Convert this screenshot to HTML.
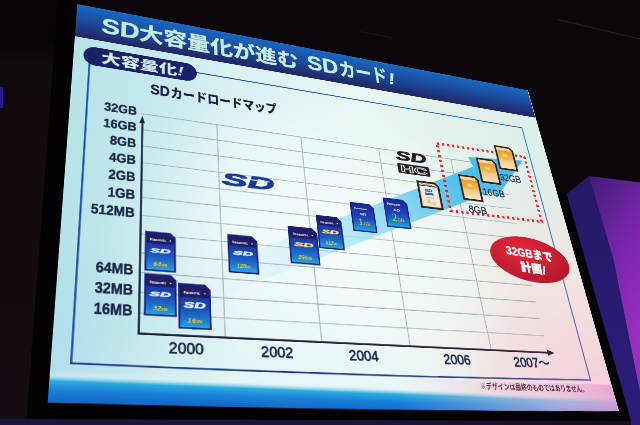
<!DOCTYPE html>
<html><head><meta charset="utf-8"><title>SD大容量化が進む SDカード!</title>
<style>
html,body{margin:0;padding:0}
body{width:640px;height:425px;overflow:hidden;position:relative;background:#0a0609;font-family:"Liberation Sans","Noto Sans CJK JP",sans-serif}
#bg{position:absolute;left:0;top:0}
#wrap{position:absolute;left:0;top:0;width:640px;height:425px;overflow:hidden;filter:blur(0.35px)}
#slide{position:absolute;left:0;top:0;width:800px;height:600px;transform-origin:0 0;transform:matrix3d(0.725759352,0.135544762,0,0.000310399625,-0.0692850929,0.495904574,0,-0.000418336994,0,0,1,0,77.2719241,4.01891224,0,1);}
#sbg{position:absolute;left:0;top:0;width:802px;height:600px;
background:
 radial-gradient(ellipse 260px 220px at 100% 100%, rgba(244,200,212,0.95) 0%, rgba(244,206,216,0.6) 45%, rgba(244,214,220,0) 100%),
 radial-gradient(ellipse 330px 90px at 35% 96%, rgba(232,246,248,0.8) 0%, rgba(232,246,248,0) 100%),
 radial-gradient(ellipse 330px 260px at 46% 60%, rgba(246,252,252,1) 0%, rgba(242,250,250,0.75) 50%, rgba(240,250,250,0) 100%),
 radial-gradient(ellipse 380px 330px at 100% 85%, rgba(245,228,226,1) 0%, rgba(245,228,226,0.8) 50%, rgba(245,228,226,0) 100%),
 radial-gradient(ellipse 120px 240px at 0% 100%, rgba(176,214,242,0.8) 0%, rgba(178,216,240,0) 100%),
 linear-gradient(to right, #bfe7eb 0%, #d6f0f1 25%, #e8f6f4 55%, #e2f0ea 80%, #dcefe9 100%);}
#sbgmask{position:absolute;left:0;top:0;width:802px;height:600px;background:linear-gradient(to right, rgba(170,222,228,0.4) 0%, rgba(188,228,236,0) 28%)}
</style></head><body>
<div id="wrap">
<svg id="bg" width="640" height="425" viewBox="0 0 640 425">
<defs><linearGradient id="pf" x1="0" y1="0" x2="0.35" y2="1"><stop offset="0" stop-color="#441c78"/><stop offset="0.25" stop-color="#5c2290"/><stop offset="0.5" stop-color="#7a26ae"/><stop offset="1" stop-color="#9a30c0"/></linearGradient>
<linearGradient id="lbg" x1="0" y1="0" x2="0" y2="1"><stop offset="0" stop-color="#080406"/><stop offset="0.09" stop-color="#080406"/><stop offset="0.16" stop-color="#110a0f"/><stop offset="1" stop-color="#170c13"/></linearGradient>
<linearGradient id="bstrip" x1="0" y1="0" x2="1" y2="0"><stop offset="0" stop-color="#1e1640"/><stop offset="0.6" stop-color="#1c1436"/><stop offset="1" stop-color="#160c1c"/></linearGradient>
<linearGradient id="pl" x1="0" y1="0" x2="0" y2="1"><stop offset="0" stop-color="#261a68"/><stop offset="1" stop-color="#2c1c78"/></linearGradient></defs>
<rect width="640" height="425" fill="#0a0609"/>
<polygon points="0,0 60,0 27,420 0,420" fill="url(#lbg)"/>
<polygon points="0,419 640,419 640,425 0,425" fill="url(#bstrip)"/>
<polygon points="566.5,194.2 588.9,176 613.6,260.1 640,392 640,425 631,425 631,421" fill="url(#pl)"/>
<polygon points="588.9,176 640,182.4 640,392 613.6,260.1" fill="url(#pf)"/>
<polygon points="0,87 3,87 3,108 0,108" fill="#2a1a90"/>
<polygon points="58,0 80,0 566.5,194.2 631,421 26.5,419" fill="#050205"/>
<line x1="557" y1="19.4" x2="640" y2="39" stroke="#2a2024" stroke-width="1.2"/>
<line x1="359" y1="31.5" x2="393" y2="37.9" stroke="#1c1418" stroke-width="1.2"/>
</svg>
<div id="slide">
<div id="sbg"></div>
<div id="sbgmask"></div>
<svg width="808" height="612" viewBox="-4 -4 808 612" style="position:absolute;left:-4px;top:-4px;overflow:visible" font-family='"Liberation Sans","Noto Sans CJK JP",sans-serif'><defs>
<linearGradient id="cb" x1="0" y1="0" x2="0" y2="1"><stop offset="0" stop-color="#1b2a98"/><stop offset="0.5" stop-color="#1d46b2"/><stop offset="0.82" stop-color="#1c7ad2"/><stop offset="1" stop-color="#28a6e4"/></linearGradient>
<linearGradient id="cg" x1="0" y1="0" x2="0" y2="1"><stop offset="0" stop-color="#e29a2c"/><stop offset="0.45" stop-color="#eeb048"/><stop offset="0.62" stop-color="#f4cc88"/><stop offset="1" stop-color="#f8e2c4"/></linearGradient>
<linearGradient id="cc" x1="0" y1="0" x2="0" y2="1"><stop offset="0" stop-color="#f4f0e4"/><stop offset="1" stop-color="#eee4cc"/></linearGradient>
<linearGradient id="arr" x1="180" y1="420" x2="750" y2="170" gradientUnits="userSpaceOnUse"><stop offset="0" stop-color="#b8e4f4" stop-opacity="0"/><stop offset="0.2" stop-color="#b0e2f4" stop-opacity="0.35"/><stop offset="0.47" stop-color="#98dcf6" stop-opacity="0.95"/><stop offset="0.75" stop-color="#52c0ec"/><stop offset="1" stop-color="#48b8ea"/></linearGradient>
<linearGradient id="boxt" x1="0" y1="0" x2="800" y2="0" gradientUnits="userSpaceOnUse"><stop offset="0" stop-color="#1a4cb0"/><stop offset="1" stop-color="#2a7ab6"/></linearGradient>
<linearGradient id="boxr" x1="0" y1="92" x2="0" y2="555" gradientUnits="userSpaceOnUse"><stop offset="0" stop-color="#2a7ab6"/><stop offset="1" stop-color="#6858a8"/></linearGradient>
<linearGradient id="boxb" x1="0" y1="0" x2="800" y2="0" gradientUnits="userSpaceOnUse"><stop offset="0" stop-color="#1a44a0"/><stop offset="0.3" stop-color="#163282"/><stop offset="0.65" stop-color="#2a3a88"/><stop offset="1" stop-color="#6858a8"/></linearGradient>
<linearGradient id="xax" x1="97" y1="0" x2="711" y2="0" gradientUnits="userSpaceOnUse"><stop offset="0" stop-color="#1c1e3c"/><stop offset="1" stop-color="#3a2238"/></linearGradient>
<linearGradient id="boxg" x1="0" y1="0" x2="800" y2="0" gradientUnits="userSpaceOnUse"><stop offset="0" stop-color="#1a4cb0"/><stop offset="0.6" stop-color="#2060b8"/><stop offset="1" stop-color="#6a5aa8"/></linearGradient>
<linearGradient id="band" x1="0" y1="0" x2="0" y2="1"><stop offset="0" stop-color="#1a68c2"/><stop offset="0.5" stop-color="#1c4a9c"/><stop offset="1" stop-color="#222462"/></linearGradient>
<linearGradient id="bot" x1="0" y1="568" x2="0" y2="603" gradientUnits="userSpaceOnUse" gradientTransform="rotate(0.9 400 585)"><stop offset="0" stop-color="#e8f6f8" stop-opacity="0"/><stop offset="0.18" stop-color="#e0f2f6" stop-opacity="0.4"/><stop offset="0.38" stop-color="#2cacde"/><stop offset="0.68" stop-color="#1a80d8"/><stop offset="1" stop-color="#136ac8"/></linearGradient>
<linearGradient id="botp" x1="0" y1="0" x2="1" y2="0"><stop offset="0.55" stop-color="#f0c8e0" stop-opacity="0"/><stop offset="0.85" stop-color="#ecc0dc" stop-opacity="0.6"/><stop offset="1" stop-color="#e4a0d0" stop-opacity="0.85"/></linearGradient>
<radialGradient id="redg" cx="0.4" cy="0.35" r="0.7"><stop offset="0" stop-color="#e8283a"/><stop offset="1" stop-color="#b2182e"/></radialGradient>
</defs>
<rect x="0" y="0" width="801" height="63" fill="url(#band)"/>
<text x="36" y="47" font-size="43" font-weight="bold" fill="#c4ece2" stroke="#c4ece2" stroke-width="0.6" lengthAdjust="spacingAndGlyphs" textLength="56">SD</text>
<text x="91" y="47" font-size="37" font-weight="bold" fill="#c4ece2" stroke="#c4ece2" stroke-width="0.6" lengthAdjust="spacingAndGlyphs" textLength="255">大容量化が進む</text>
<text x="361.5" y="45.5" font-size="43" font-weight="bold" fill="#c4ece2" stroke="#c4ece2" stroke-width="0.6" lengthAdjust="spacingAndGlyphs" textLength="55">SD</text>
<text x="418" y="45.5" font-size="39" font-weight="bold" fill="#c4ece2" stroke="#c4ece2" stroke-width="0.6" lengthAdjust="spacingAndGlyphs" textLength="89">カード</text>
<text x="509" y="45" font-size="36" font-weight="bold" fill="#c4ece2" stroke="#c4ece2" stroke-width="0.6" lengthAdjust="spacingAndGlyphs" font-style="italic">!</text>
<path d="M0,560 L801,560 L801,600 Q400,605 0,600 Z" fill="url(#bot)"/>
<path d="M0,560 L801,560 L801,600 Q400,605 0,600 Z" fill="url(#botp)"/>
<line x1="22.4" y1="92" x2="764.5" y2="92" stroke="url(#boxt)" stroke-width="2.2"/>
<line x1="22.4" y1="91" x2="22.4" y2="555" stroke="#1a46a8" stroke-width="2.4"/>
<path d="M21.4,553.6 Q393,559 765.5,553.6" fill="none" stroke="url(#boxb)" stroke-width="2.3"/>
<line x1="764.5" y1="91" x2="764.5" y2="555" stroke="url(#boxr)" stroke-width="2"/>
<rect x="13.5" y="77" width="164.5" height="34" rx="17" fill="#1a2168"/>
<text x="38" y="103.5" font-size="24" font-weight="900" fill="#cdeeea" textLength="120" lengthAdjust="spacingAndGlyphs">大容量化<tspan font-style="italic">!</tspan></text>
<text x="109" y="146" font-size="25" font-weight="bold" fill="#1a2040" stroke="#1a2040" stroke-width="0.5" textLength="28" lengthAdjust="spacingAndGlyphs">SD</text>
<text x="138" y="146.5" font-size="22.5" font-weight="900" fill="#1a2040" textLength="164" lengthAdjust="spacingAndGlyphs">カードロードマップ</text>
<line x1="99" y1="183.7" x2="700" y2="183.7" stroke="#a2b4b8" stroke-width="1.4"/>
<line x1="99" y1="211.3" x2="700" y2="211.3" stroke="#a2b4b8" stroke-width="1.4"/>
<line x1="99" y1="238.8" x2="700" y2="238.8" stroke="#a2b4b8" stroke-width="1.4"/>
<line x1="99" y1="266.4" x2="700" y2="266.4" stroke="#a2b4b8" stroke-width="1.4"/>
<line x1="99" y1="293.9" x2="700" y2="293.9" stroke="#a2b4b8" stroke-width="1.4"/>
<line x1="99" y1="321.5" x2="700" y2="321.5" stroke="#a2b4b8" stroke-width="1.4"/>
<line x1="99" y1="349.1" x2="700" y2="349.1" stroke="#a2b4b8" stroke-width="1.4"/>
<line x1="99" y1="376.6" x2="700" y2="376.6" stroke="#a2b4b8" stroke-width="1.4"/>
<line x1="99" y1="404.2" x2="700" y2="404.2" stroke="#a2b4b8" stroke-width="1.4"/>
<line x1="99" y1="431.7" x2="700" y2="431.7" stroke="#a2b4b8" stroke-width="1.4"/>
<line x1="99" y1="459.3" x2="700" y2="459.3" stroke="#a2b4b8" stroke-width="1.4"/>
<line x1="99" y1="486.9" x2="700" y2="486.9" stroke="#a2b4b8" stroke-width="1.4"/>
<line x1="206.1" y1="183.7" x2="206.1" y2="513.6" stroke="#a2b4b8" stroke-width="1.4"/>
<line x1="337.1" y1="183.7" x2="337.1" y2="513.6" stroke="#a2b4b8" stroke-width="1.4"/>
<line x1="468.5" y1="183.7" x2="468.5" y2="513.6" stroke="#a2b4b8" stroke-width="1.4"/>
<line x1="600.2" y1="183.7" x2="600.2" y2="513.6" stroke="#a2b4b8" stroke-width="1.4"/>
<polygon points="200,413 641.2,192.4 635.5,174.2 746.4,164.5 674.2,248.3 668.2,236.9 200,458" fill="url(#arr)"/>
<line x1="98.5" y1="514.5" x2="98.5" y2="198" stroke="#1a1e3a" stroke-width="2.6"/>
<polygon points="98.2,188 94.3,200 102.1,200" fill="#1a1e3a"/>
<line x1="97.2" y1="513.6" x2="700" y2="513.6" stroke="url(#xax)" stroke-width="2.6"/>
<polygon points="711,513.6 698,508.6 698,518.6" fill="#3a2238"/>
<text x="90.5" y="187.7" font-size="20.5" font-weight="bold" fill="#1a2446" stroke="#1a2446" stroke-width="0.5" text-anchor="end" transform="translate(90.5 0) scale(0.84 1) translate(-90.5 0)">32GB</text>
<text x="90.5" y="215.3" font-size="20.5" font-weight="bold" fill="#1a2446" stroke="#1a2446" stroke-width="0.5" text-anchor="end" transform="translate(90.5 0) scale(0.84 1) translate(-90.5 0)">16GB</text>
<text x="90.5" y="242.8" font-size="20.5" font-weight="bold" fill="#1a2446" stroke="#1a2446" stroke-width="0.5" text-anchor="end" transform="translate(90.5 0) scale(0.84 1) translate(-90.5 0)">8GB</text>
<text x="90.5" y="270.4" font-size="20.5" font-weight="bold" fill="#1a2446" stroke="#1a2446" stroke-width="0.5" text-anchor="end" transform="translate(90.5 0) scale(0.84 1) translate(-90.5 0)">4GB</text>
<text x="90.5" y="297.9" font-size="20.5" font-weight="bold" fill="#1a2446" stroke="#1a2446" stroke-width="0.5" text-anchor="end" transform="translate(90.5 0) scale(0.84 1) translate(-90.5 0)">2GB</text>
<text x="90.5" y="325.5" font-size="20.5" font-weight="bold" fill="#1a2446" stroke="#1a2446" stroke-width="0.5" text-anchor="end" transform="translate(90.5 0) scale(0.84 1) translate(-90.5 0)">1GB</text>
<text x="90.5" y="353.1" font-size="20.5" font-weight="bold" fill="#1a2446" stroke="#1a2446" stroke-width="0.5" text-anchor="end" transform="translate(90.5 0) scale(0.84 1) translate(-90.5 0)">512MB</text>
<text x="90.5" y="435.7" font-size="20.5" font-weight="bold" fill="#1a2446" stroke="#1a2446" stroke-width="0.5" text-anchor="end" transform="translate(90.5 0) scale(0.84 1) translate(-90.5 0)">64MB</text>
<text x="90.5" y="463.3" font-size="20.5" font-weight="bold" fill="#1a2446" stroke="#1a2446" stroke-width="0.5" text-anchor="end" transform="translate(90.5 0) scale(0.84 1) translate(-90.5 0)">32MB</text>
<text x="90.5" y="490.9" font-size="20.5" font-weight="bold" fill="#1a2446" stroke="#1a2446" stroke-width="0.5" text-anchor="end" transform="translate(90.5 0) scale(0.84 1) translate(-90.5 0)">16MB</text>
<text x="156.5" y="537.5" font-size="19.5" fill="#1e2a4e" stroke="#1e2a4e" stroke-width="0.85" text-anchor="middle">2000</text>
<text x="274" y="537.5" font-size="19.5" fill="#1e2a4e" stroke="#1e2a4e" stroke-width="0.85" text-anchor="middle">2002</text>
<text x="396" y="537.5" font-size="19.5" fill="#1e2a4e" stroke="#1e2a4e" stroke-width="0.85" text-anchor="middle">2004</text>
<text x="540" y="537.5" font-size="19.5" fill="#1e2a4e" stroke="#1e2a4e" stroke-width="0.85" text-anchor="middle">2006</text>
<text x="666" y="537.5" font-size="19.5" fill="#1e2a4e" stroke="#1e2a4e" stroke-width="0.85" text-anchor="middle">2007～</text>
<text x="249" y="286" font-size="29" font-weight="bold" font-style="italic" fill="#1a3a9c" stroke="#1a3a9c" stroke-width="1.2" text-anchor="middle" textLength="78" lengthAdjust="spacingAndGlyphs">SD</text>
<polygon points="253,271.5 281,271.5 280.5,273.3 252.5,273.3" fill="#d8eef0"/>
<text x="525" y="200" font-size="24" font-weight="bold" font-style="italic" fill="#2a1c24" stroke="#2a1c24" stroke-width="1.1" text-anchor="middle" textLength="56" lengthAdjust="spacingAndGlyphs">SD</text>
<rect x="497.5" y="206.5" width="57" height="18.5" rx="2.5" fill="#2a1c24"/>
<text x="526" y="222" font-size="17" font-weight="bold" fill="none" stroke="#e6eef0" stroke-width="1.1" text-anchor="middle" textLength="48" lengthAdjust="spacingAndGlyphs">HC</text>
<g transform="translate(104.3,371.5)"><polygon points="0,0 33.2,0 40,6.800000000000001 40,57 0,57" fill="#17237e"/><polygon points="2.2,2.2 32.298,2.2 37.8,7.702000000000001 37.8,54.8 2.2,54.8" fill="url(#cb)"/><polygon points="2.2,2.2 32.298,2.2 37.8,7.702000000000001 37.8,17.180000000000003 2.2,17.180000000000003" fill="#221c62"/><text x="16.8" y="13.4" font-size="5.1" fill="#ffffff" text-anchor="middle" font-weight="bold" textLength="20.8" lengthAdjust="spacingAndGlyphs">Panasonic</text><circle cx="32.8" cy="11.7" r="1" fill="#fff"/><text x="20.0" y="30.5" font-size="9.4" fill="#d6ecfa" text-anchor="middle" font-weight="bold" font-style="italic" textLength="26.4" lengthAdjust="spacingAndGlyphs" stroke="#d6ecfa" stroke-width="0.7">SD</text><text x="20.0" y="49.6" font-size="8.8" fill="#eec42c" text-anchor="middle" font-style="italic" font-weight="bold" textLength="18.4" lengthAdjust="spacingAndGlyphs">64<tspan font-size="4.8">MB</tspan></text></g>
<g transform="translate(104.3,432.5)"><polygon points="0,0 33.615,0 40.5,6.885000000000001 40.5,57 0,57" fill="#17237e"/><polygon points="2.2,2.2 32.713,2.2 38.3,7.787000000000001 38.3,54.8 2.2,54.8" fill="url(#cb)"/><polygon points="2.2,2.2 32.713,2.2 38.3,7.787000000000001 38.3,17.180000000000003 2.2,17.180000000000003" fill="#221c62"/><text x="17.0" y="13.4" font-size="5.1" fill="#ffffff" text-anchor="middle" font-weight="bold" textLength="21.1" lengthAdjust="spacingAndGlyphs">Panasonic</text><circle cx="33.2" cy="11.7" r="1" fill="#fff"/><text x="20.2" y="30.5" font-size="9.4" fill="#d6ecfa" text-anchor="middle" font-weight="bold" font-style="italic" textLength="26.7" lengthAdjust="spacingAndGlyphs" stroke="#d6ecfa" stroke-width="0.7">SD</text><text x="20.2" y="49.6" font-size="8.8" fill="#eec42c" text-anchor="middle" font-style="italic" font-weight="bold" textLength="18.6" lengthAdjust="spacingAndGlyphs">32<tspan font-size="4.8">MB</tspan></text></g>
<g transform="translate(147.0,442.5)"><polygon points="0,0 34.86,0 42,7.140000000000001 42,62 0,62" fill="#17237e"/><polygon points="2.2,2.2 33.958,2.2 39.8,8.042 39.8,59.8 2.2,59.8" fill="url(#cb)"/><polygon points="2.2,2.2 33.958,2.2 39.8,8.042 39.8,18.880000000000003 2.2,18.880000000000003" fill="#221c62"/><text x="17.6" y="14.6" font-size="5.6" fill="#ffffff" text-anchor="middle" font-weight="bold" textLength="21.8" lengthAdjust="spacingAndGlyphs">Panasonic</text><circle cx="34.4" cy="12.7" r="1" fill="#fff"/><text x="21.0" y="33.2" font-size="10.2" fill="#d6ecfa" text-anchor="middle" font-weight="bold" font-style="italic" textLength="27.7" lengthAdjust="spacingAndGlyphs" stroke="#d6ecfa" stroke-width="0.7">SD</text><text x="21.0" y="53.9" font-size="9.6" fill="#eec42c" text-anchor="middle" font-style="italic" font-weight="bold" textLength="19.3" lengthAdjust="spacingAndGlyphs">16<tspan font-size="5.3">MB</tspan></text></g>
<g transform="translate(214.5,364.5)"><polygon points="0,0 34.86,0 42,7.140000000000001 42,57.5 0,57.5" fill="#17237e"/><polygon points="2.2,2.2 33.958,2.2 39.8,8.042 39.8,55.3 2.2,55.3" fill="url(#cb)"/><polygon points="2.2,2.2 33.958,2.2 39.8,8.042 39.8,17.35 2.2,17.35" fill="#221c62"/><text x="17.6" y="13.5" font-size="5.2" fill="#ffffff" text-anchor="middle" font-weight="bold" textLength="21.8" lengthAdjust="spacingAndGlyphs">Panasonic</text><circle cx="34.4" cy="11.8" r="1" fill="#fff"/><text x="21.0" y="30.8" font-size="9.5" fill="#d6ecfa" text-anchor="middle" font-weight="bold" font-style="italic" textLength="27.7" lengthAdjust="spacingAndGlyphs" stroke="#d6ecfa" stroke-width="0.7">SD</text><text x="21.0" y="50.0" font-size="8.9" fill="#eec42c" text-anchor="middle" font-style="italic" font-weight="bold" textLength="19.3" lengthAdjust="spacingAndGlyphs">128<tspan font-size="4.9">MB</tspan></text></g>
<g transform="translate(303.0,342.0)"><polygon points="0,0 36.519999999999996,0 44,7.48 44,58.5 0,58.5" fill="#17237e"/><polygon points="2.2,2.2 35.617999999999995,2.2 41.8,8.382 41.8,56.3 2.2,56.3" fill="url(#cb)"/><polygon points="2.2,2.2 35.617999999999995,2.2 41.8,8.382 41.8,17.69 2.2,17.69" fill="#221c62"/><text x="18.5" y="13.7" font-size="5.3" fill="#ffffff" text-anchor="middle" font-weight="bold" textLength="22.9" lengthAdjust="spacingAndGlyphs">Panasonic</text><circle cx="36.1" cy="12.0" r="1" fill="#fff"/><text x="22.0" y="31.3" font-size="9.7" fill="#f2d88a" text-anchor="middle" font-weight="bold" font-style="italic" textLength="29.0" lengthAdjust="spacingAndGlyphs" stroke="#f2d88a" stroke-width="0.7">SD</text><text x="22.0" y="50.9" font-size="9.1" fill="#eec42c" text-anchor="middle" font-style="italic" font-weight="bold" textLength="20.2" lengthAdjust="spacingAndGlyphs">256<tspan font-size="5.0">MB</tspan></text></g>
<g transform="translate(348.0,319.0)"><polygon points="0,0 32.785,0 39.5,6.715000000000001 39.5,54 0,54" fill="#17237e"/><polygon points="2.2,2.2 31.882999999999996,2.2 37.3,7.617000000000001 37.3,51.8 2.2,51.8" fill="url(#cb)"/><polygon points="2.2,2.2 31.882999999999996,2.2 37.3,7.617000000000001 37.3,16.160000000000004 2.2,16.160000000000004" fill="#221c62"/><text x="16.6" y="12.7" font-size="4.9" fill="#ffffff" text-anchor="middle" font-weight="bold" textLength="20.5" lengthAdjust="spacingAndGlyphs">Panasonic</text><circle cx="32.4" cy="11.1" r="1" fill="#fff"/><text x="19.8" y="28.9" font-size="8.9" fill="#f2d88a" text-anchor="middle" font-weight="bold" font-style="italic" textLength="26.1" lengthAdjust="spacingAndGlyphs" stroke="#f2d88a" stroke-width="0.7">SD</text><text x="19.8" y="47.0" font-size="8.4" fill="#eec42c" text-anchor="middle" font-style="italic" font-weight="bold" textLength="18.2" lengthAdjust="spacingAndGlyphs">512<tspan font-size="4.6">MB</tspan></text></g>
<g transform="translate(405.0,290.0)"><polygon points="0,0 32.37,0 39,6.630000000000001 39,49 0,49" fill="#17237e"/><polygon points="2.2,2.2 31.467999999999996,2.2 36.8,7.532000000000001 36.8,46.8 2.2,46.8" fill="url(#cb)"/><text x="16.4" y="11.5" font-size="4.4" fill="#ffffff" text-anchor="middle" font-weight="bold" textLength="21.5" lengthAdjust="spacingAndGlyphs">Panasonic</text><text x="14.0" y="21.1" font-size="5.9" fill="#d6ecfa" font-weight="bold" font-style="italic" textLength="10.9" lengthAdjust="spacingAndGlyphs">SD</text><text x="19.5" y="38.2" font-size="17.6" fill="#e6d040" text-anchor="middle" font-family="Liberation Serif,serif">1<tspan font-size="7.8">GB</tspan></text></g>
<g transform="translate(462.0,275.0)"><polygon points="0,0 34.03,0 41,6.970000000000001 41,51 0,51" fill="#17237e"/><polygon points="2.2,2.2 33.128,2.2 38.8,7.872000000000001 38.8,48.8 2.2,48.8" fill="url(#cb)"/><text x="17.2" y="12.0" font-size="4.6" fill="#ffffff" text-anchor="middle" font-weight="bold" textLength="22.6" lengthAdjust="spacingAndGlyphs">Panasonic</text><text x="14.8" y="21.9" font-size="6.1" fill="#d6ecfa" font-weight="bold" font-style="italic" textLength="11.5" lengthAdjust="spacingAndGlyphs">SD</text><text x="20.5" y="39.8" font-size="18.4" fill="#e6d040" text-anchor="middle" font-family="Liberation Serif,serif">2<tspan font-size="8.2">GB</tspan></text></g>
<g transform="translate(527.0,235.0)"><polygon points="0,0 33.2,0 40,6.800000000000001 40,50 0,50" fill="#33231a"/><polygon points="3.6,3.6 31.724000000000004,3.6 36.4,8.276 36.4,46.4 3.6,46.4" fill="url(#cc)"/><rect x="4" y="7.5" width="31.0" height="1.5" fill="#2a2a38"/><text x="18.0" y="7.0" font-size="4.0" fill="#303050" text-anchor="middle" font-weight="bold" textLength="20.0" lengthAdjust="spacingAndGlyphs">Panasonic</text><text x="12.0" y="19.5" font-size="7.5" fill="#2a5cb8" stroke="#2a5cb8" stroke-width="0.6" font-weight="bold" font-style="italic" textLength="13.6" lengthAdjust="spacingAndGlyphs">SD</text><rect x="12.0" y="21.0" width="14.4" height="4.0" fill="#2a5cb8"/><text x="14.0" y="31.0" font-size="3.5" fill="#606068">Class 4</text><text x="20.0" y="42.0" font-size="12.5" fill="#d89c38" text-anchor="middle">4<tspan font-size="6.0">GB</tspan></text></g>
<rect x="579.5" y="156" width="173" height="128.5" fill="none" stroke="#f0202e" stroke-width="5" stroke-dasharray="4.2 5.4"/>
<g transform="translate(607.8,212.0)"><polygon points="0,0 31.706000000000003,0 38.2,6.494000000000001 38.2,48.5 0,48.5" fill="#33231a"/><polygon points="3.6,3.6 30.230000000000004,3.6 34.6,7.970000000000001 34.6,44.9 3.6,44.9" fill="url(#cg)"/><rect x="3.2" y="3.2" width="27.7" height="5.8" fill="#f6e2b8" opacity="0.85"/><rect x="13.8" y="16.5" width="9.2" height="4.9" fill="#f8e070"/><rect x="12.2" y="24.2" width="13.0" height="2.4" fill="#e8b060" opacity="0.7"/><rect x="13.0" y="29.1" width="11.5" height="4.4" fill="#f0c880" opacity="0.6"/></g>
<g transform="translate(650.7,172.6)"><polygon points="0,0 32.20399999999999,0 38.8,6.596 38.8,49.5 0,49.5" fill="#33231a"/><polygon points="3.6,3.6 30.727999999999994,3.6 35.199999999999996,8.072 35.199999999999996,45.9 3.6,45.9" fill="url(#cg)"/><rect x="3.2" y="3.2" width="28.2" height="5.9" fill="#f6e2b8" opacity="0.85"/><rect x="14.0" y="16.8" width="9.3" height="5.0" fill="#f8e070"/><rect x="12.4" y="24.8" width="13.2" height="2.5" fill="#e8b060" opacity="0.7"/><rect x="13.2" y="29.7" width="11.6" height="4.5" fill="#f0c880" opacity="0.6"/></g>
<g transform="translate(693.7,140.5)"><polygon points="0,0 31.373999999999995,0 37.8,6.426 37.8,49 0,49" fill="#33231a"/><polygon points="3.6,3.6 29.897999999999996,3.6 34.199999999999996,7.902 34.199999999999996,45.4 3.6,45.4" fill="url(#cg)"/><rect x="3.2" y="3.2" width="27.4" height="5.9" fill="#f6e2b8" opacity="0.85"/><rect x="13.6" y="16.7" width="9.1" height="4.9" fill="#f8e070"/><rect x="12.1" y="24.5" width="12.9" height="2.5" fill="#e8b060" opacity="0.7"/><rect x="12.9" y="29.4" width="11.3" height="4.4" fill="#f0c880" opacity="0.6"/></g>
<text x="614" y="283" font-size="19" fill="#1e2640" stroke="#1e2640" stroke-width="0.4" textLength="34" lengthAdjust="spacingAndGlyphs">8GB</text>
<text x="649" y="246" font-size="19" fill="#1e2640" stroke="#1e2640" stroke-width="0.4" textLength="42" lengthAdjust="spacingAndGlyphs">16GB</text>
<text x="690" y="212" font-size="19" fill="#1e2640" stroke="#1e2640" stroke-width="0.4" textLength="42" lengthAdjust="spacingAndGlyphs">32GB</text>
<g transform="translate(710.5 358) rotate(4)"><ellipse cx="0" cy="0" rx="74" ry="40" fill="url(#redg)"/><text x="0" y="-3" font-size="21" font-weight="900" fill="#fff" stroke="#fff" stroke-width="0.5" text-anchor="middle" textLength="88" lengthAdjust="spacingAndGlyphs">32GBまで</text><text x="2" y="23" font-size="21" font-weight="900" fill="#fff" stroke="#fff" stroke-width="0.5" text-anchor="middle" textLength="47" lengthAdjust="spacingAndGlyphs">計画<tspan font-style="italic">!</tspan></text></g>
<text x="754" y="572" font-size="11" font-weight="bold" fill="#5a3040" text-anchor="end" textLength="185" lengthAdjust="spacingAndGlyphs">※デザインは最終のものではありません。</text></svg>
</div>
</div>
</body></html>
